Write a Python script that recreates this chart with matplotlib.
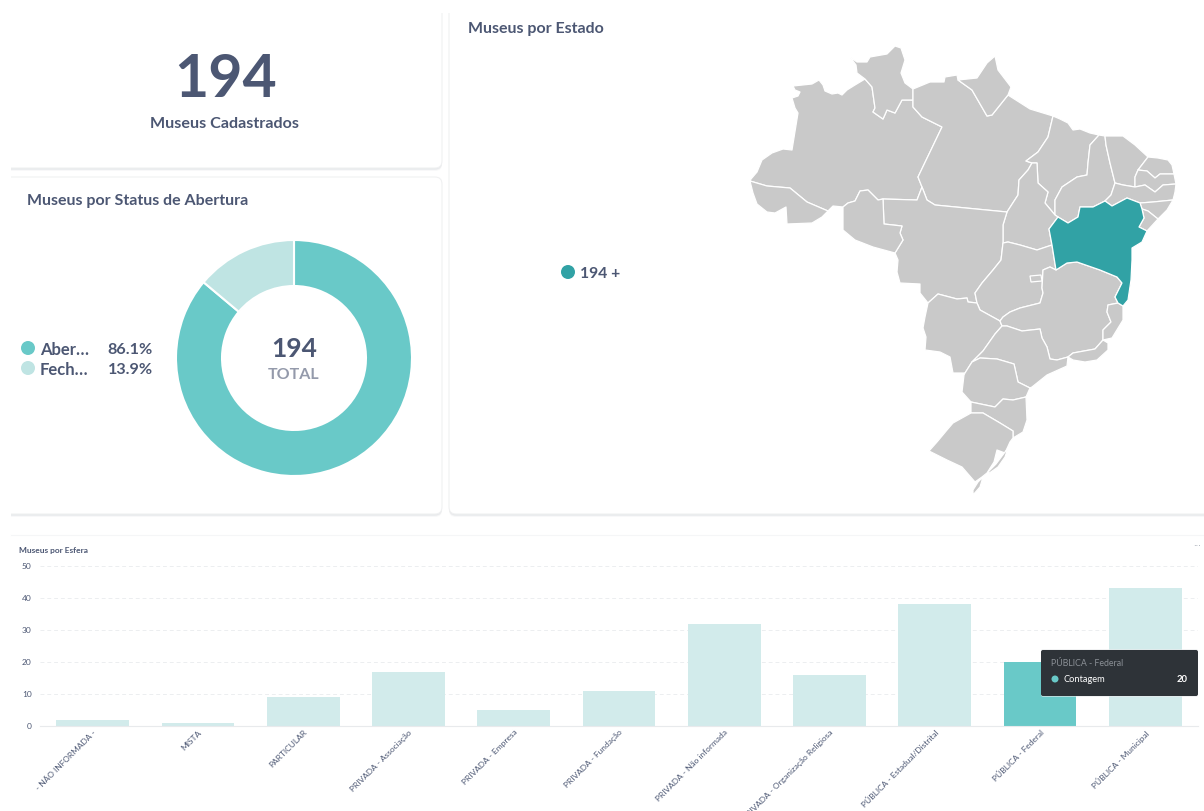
import matplotlib
matplotlib.use('Agg')
import matplotlib.pyplot as plt
from matplotlib.patches import FancyBboxPatch, Polygon, Circle
from matplotlib.transforms import ScaledTranslation

plt.rcParams['font.family'] = ['Lato', 'DejaVu Sans']

# dados
total_museus = 194
status_nomes = ['Aber…', 'Fech…']
status_pct = [86.1, 13.9]
esferas = ['- NÃO INFORMADA -', 'MISTA', 'PARTICULAR', 'PRIVADA - Associação', 'PRIVADA - Empresa',
           'PRIVADA - Fundação', 'PRIVADA - Não informada', 'PRIVADA - Organização Religiosa',
           'PÚBLICA - Estadual/Distrital', 'PÚBLICA - Federal', 'PÚBLICA - Municipal']
contagem = [2, 1, 9, 17, 5, 11, 32, 16, 38, 20, 43]
yticks_esfera = [0, 10, 20, 30, 40, 50]

# contornos dos estados (pixels)
AM = [(793,86),(812,84),(819,80),(823,85),(825,91),(832,94),(838,93),(842,95),(847,90),(855,85),(865,79),(872,87),(875,108),(873,112),(883,119),(887,110),(895,113),(902,100),(913,100),(913,107),(922,117),(942,127),(918,177),(922,187),(917,200),(883,199),(878,200),(868,190),(860,191),(855,201),(848,203),(843,207),(833,206),(828,211),(807,202),(790,188),(767,186),(750,181),(751,179),(757,172),(762,160),(772,153),(783,149),(792,150),(798,113),(795,108),(792,98),(798,96),(800,92),(795,90)]
RR = [(850,57),(857,62),(867,62),(870,57),(887,54),(895,46),(901,48),(905,60),(901,73),(905,83),(913,89),(913,100),(902,100),(895,113),(887,110),(883,119),(873,112),(875,108),(872,87),(865,79),(857,73),(856,65)]
PA = [(913,89),(930,82),(944,82),(945,77),(957,75),(958,80),(972,90),(987,116),(992,115),(1008,95),(1030,109),(1053,116),(1048,137),(1038,152),(1026,161),(1032,163),(1028,170),(1019,180),(1018,195),(1007,212),(935,205),(927,200),(922,187),(918,177),(942,127),(922,117),(913,107),(913,100)]
AP = [(958,80),(977,78),(987,63),(995,56),(998,70),(1011,87),(1008,95),(992,115),(987,116),(972,90)]
MA = [(1053,116),(1060,119),(1068,123),(1073,130),(1080,129),(1090,133),(1099,135),(1090,145),(1088,163),(1087,175),(1077,177),(1062,187),(1055,200),(1055,215),(1045,203),(1048,192),(1038,183),(1037,163),(1032,163),(1026,161),(1038,152),(1048,137)]
PI = [(1099,135),(1105,136),(1106,145),(1110,163),(1115,183),(1111,195),(1105,201),(1093,207),(1080,207),(1078,217),(1068,223),(1058,217),(1055,215),(1055,200),(1062,187),(1077,177),(1087,175),(1088,163),(1090,145)]
CE = [(1105,136),(1123,136),(1135,145),(1148,157),(1138,170),(1135,177),(1135,187),(1123,185),(1115,183),(1110,163),(1106,145)]
RN = [(1148,157),(1158,158),(1168,160),(1172,165),(1174,174),(1160,174),(1155,178),(1147,171),(1138,170)]
PB = [(1135,177),(1138,170),(1147,171),(1155,178),(1160,174),(1174,174),(1176,184),(1163,185),(1155,192),(1145,185),(1135,187)]
PE = [(1115,183),(1123,185),(1135,187),(1145,185),(1155,192),(1163,185),(1176,184),(1175,192),(1173,200),(1153,202),(1140,203),(1127,198),(1112,206),(1105,201),(1111,195)]
AL = [(1140,203),(1153,202),(1173,200),(1167,210),(1158,219),(1148,211),(1142,209)]
SE = [(1142,209),(1148,211),(1158,219),(1147,231),(1139,227),(1144,218)]
BA = [(1105,201),(1112,206),(1127,198),(1140,203),(1142,209),(1144,218),(1139,227),(1147,231),(1142,242),(1132,248),(1132,260),(1131,280),(1128,300),(1123,306),(1118,303),(1115,297),(1122,283),(1117,277),(1100,270),(1077,262),(1067,263),(1056,270),(1052,245),(1049,229),(1058,217),(1068,223),(1078,217),(1080,207),(1093,207)]
TO = [(1032,163),(1037,163),(1038,183),(1048,192),(1045,203),(1055,215),(1058,217),(1049,229),(1052,245),(1037,250),(1020,245),(1008,242),(1003,243),(1003,225),(1007,212),(1018,195),(1019,180),(1028,170)]
MT = [(883,199),(917,200),(922,187),(927,200),(935,205),(1007,212),(1003,225),(1003,243),(1001,260),(993,270),(982,283),(975,293),(977,303),(968,302),(967,298),(957,299),(938,294),(928,303),(920,293),(920,284),(900,283),(897,272),(898,260),(895,253),(903,240),(900,233),(902,226),(884,224)]
RO = [(843,207),(848,203),(855,201),(860,191),(868,190),(878,200),(883,199),(884,224),(902,226),(900,233),(903,240),(895,253),(873,247),(855,240),(843,230),(843,220)]
AC = [(750,181),(767,186),(790,188),(807,202),(828,211),(822,217),(812,223),(787,224),(786,207),(775,213),(767,212),(757,204),(753,193)]
GO = [(1056,270),(1050,267),(1043,270),(1042,288),(1043,293),(1040,303),(1020,308),(1010,312),(1003,317),(1000,321),(980,310),(977,303),(975,293),(982,283),(993,270),(1001,260),(1003,243),(1008,242),(1020,245),(1037,250),(1052,245)]
DF = [(1030,276),(1041,275),(1042,281),(1031,282)]
MS = [(928,303),(938,294),(957,299),(967,298),(968,302),(977,303),(980,310),(1000,321),(1002,326),(995,334),(983,351),(972,362),(965,373),(953,373),(950,357),(940,352),(925,350),(926,337),(923,328),(925,317)]
MG = [(1056,270),(1067,263),(1077,262),(1100,270),(1117,277),(1122,283),(1115,297),(1118,303),(1108,305),(1107,312),(1111,322),(1103,330),(1103,340),(1095,349),(1073,353),(1068,357),(1057,360),(1050,359),(1047,347),(1042,338),(1040,329),(1022,331),(1007,326),(1002,326),(1000,321),(1003,317),(1010,312),(1020,308),(1040,303),(1043,293),(1042,288),(1043,270),(1050,267)]
SP = [(1002,326),(1007,326),(1022,331),(1040,329),(1042,338),(1047,347),(1050,359),(1057,360),(1068,357),(1067,366),(1047,375),(1032,387),(1030,388),(1018,382),(1014,364),(997,359),(980,358),(972,362),(983,351),(995,334)]
RJ = [(1068,357),(1073,353),(1095,349),(1103,340),(1108,343),(1108,350),(1097,360),(1085,362),(1073,360)]
ES = [(1108,305),(1118,303),(1123,306),(1123,320),(1112,338),(1103,340),(1103,330),(1111,322),(1107,312)]
PR = [(972,362),(980,358),(997,359),(1014,364),(1018,382),(1030,388),(1026,397),(1013,400),(1003,399),(995,407),(971,402),(962,392),(964,375),(965,373)]
SC = [(971,402),(995,407),(1003,399),(1013,400),(1026,397),(1027,420),(1023,432),(1013,438),(1013,431),(1000,423),(983,413),(971,413)]
RS = [(971,413),(983,413),(1000,423),(1013,431),(1013,438),(1010,442),(1005,453),(997,450),(994,462),(987,473),(982,477),(975,482),(962,467),(947,460),(929,451),(937,442),(947,430),(953,423)]
RS_sul = [(983,477),(980,487),(973,495),(973,490),(978,482)]
RS_costa = [(1008,448),(1005,457),(998,467),(988,474),(989,471),(996,464),(1002,456)]
estados_cinza = [AM, RR, PA, AP, MA, PI, CE, RN, PB, PE, AL, SE, TO, MT, RO, AC, GO, MS, MG, SP, RJ, ES, PR, SC, RS, RS_sul, RS_costa]

texto = '#4c5773'
cinza_mapa = '#c9c9c9'
teal = '#31a2a5'
teal_claro = '#69c9c8'
teal_palido = '#bfe4e3'
barra_clara = '#d2ebeb'

fig = plt.figure(figsize=(12.04, 8.11), dpi=100, facecolor='white')

# camada de fundo em pixels
bg = fig.add_axes([0, 0, 1, 1])
bg.set_xlim(0, 1204)
bg.set_ylim(811, 0)
bg.axis('off')


def cartao(x0, y0, x1, y1):
    for d, a in ((2.5, 0.25), (1.5, 0.45), (0.8, 0.7)):
        bg.add_patch(FancyBboxPatch((x0, y0 + 0.5), x1 - x0, y1 - y0 + d, boxstyle='round,pad=0,rounding_size=7',
                                    fc='#e4e6e8', ec='none', alpha=a))
    bg.add_patch(FancyBboxPatch((x0, y0), x1 - x0, y1 - y0, boxstyle='round,pad=0,rounding_size=7',
                                fc='white', ec='#f0f1f2', lw=0.8))


cartao(-20, -20, 442, 168)
cartao(-20, 177, 442, 514)
cartao(449, -20, 1230, 514)
bg.add_patch(plt.Rectangle((0, 0), 11, 530, fc='white', ec='none', zorder=3))
bg.add_patch(plt.Rectangle((0, 0), 1204, 13, fc='white', ec='none', zorder=3))
bg.plot([11, 1204], [535, 535], color='#f5f6f7', lw=0.8)

# cartão de total
bg.text(226, 80, str(total_museus), fontsize=42.5, fontweight='bold', color=texto, ha='center', va='center')
bg.text(225, 124, 'Museus Cadastrados', fontsize=11.6, fontweight='bold', color=texto, ha='center', va='center')

# rosca
bg.text(27, 201, 'Museus por Status de Abertura', fontsize=11.5, fontweight='bold', color=texto, va='center')
rosca = fig.add_axes([176 / 1204, 1 - 476 / 811, 236 / 1204, 236 / 811])
rosca.pie(status_pct, colors=[teal_claro, teal_palido], startangle=90, counterclock=False, radius=1,
          wedgeprops=dict(width=0.39, edgecolor='white', linewidth=1.5))
rosca.set_xlim(-1, 1)
rosca.set_ylim(-1, 1)
bg.text(294, 349, str(total_museus), fontsize=19, fontweight='bold', color=texto, ha='center', va='center')
bg.text(294, 375, 'TOTAL', fontsize=11.5, fontweight='bold', color='#949aab', ha='center', va='center')
for nome, pct, cor, y in zip(status_nomes, status_pct, [teal_claro, teal_palido], [348, 368]):
    bg.add_patch(Circle((28, y), 7, fc=cor, ec='none'))
    bg.text(40, y + 2, nome, fontsize=12, fontweight='bold', color=texto, va='center')
    bg.text(153, y + 2, f'{pct}%', fontsize=11.6, fontweight='bold', color=texto, va='center', ha='right')

# mapa
bg.text(468, 29, 'Museus por Estado', fontsize=11.5, fontweight='bold', color=texto, va='center')
bg.add_patch(Circle((568, 272), 7, fc=teal, ec='none'))
bg.text(580, 274, '194 +', fontsize=11.3, fontweight='bold', color=texto, va='center')
for contorno in estados_cinza:
    bg.add_patch(Polygon(contorno, closed=True, fc=cinza_mapa, ec='white', lw=0.9, joinstyle='round'))
bg.add_patch(Polygon(BA, closed=True, fc=teal, ec='white', lw=0.9, joinstyle='round'))
bg.add_patch(Polygon(DF, closed=True, fc=cinza_mapa, ec='white', lw=0.9))

# barras
bg.text(19, 550, 'Museus por Esfera', fontsize=6, fontweight='bold', color=texto, va='center')
bg.text(1197, 544, '...', fontsize=6, family='DejaVu Sans', color='#8a919e', ha='center', va='center')
ax = fig.add_axes([40 / 1204, 1 - 726 / 811, (1198 - 40) / 1204, (726 - 566) / 811])
ax.set_facecolor('none')
posicoes = list(range(len(esferas)))
cores = [teal_claro if e == 'PÚBLICA - Federal' else barra_clara for e in esferas]
ax.bar(posicoes, contagem, width=0.69, color=cores, zorder=2)
ax.set_xlim(-0.5, 10.5)
ax.set_ylim(0, 50)
ax.set_yticks(yticks_esfera)
ax.set_xticks(posicoes)
ax.set_xticklabels(esferas, rotation=45, ha='right', rotation_mode='anchor', fontsize=6, color=texto)
desloca = ScaledTranslation(-2.5 / 100, 0, fig.dpi_scale_trans)
for rotulo in ax.get_xticklabels():
    rotulo.set_transform(rotulo.get_transform() + desloca)
ax.tick_params(axis='y', length=0, labelsize=6, labelcolor=texto, pad=6)
ax.tick_params(axis='x', length=0, pad=2)
ax.grid(axis='y', color='#eceef0', linestyle=(0, (4, 3)), lw=0.7, zorder=1)
for s in ('top', 'left', 'right'):
    ax.spines[s].set_visible(False)
ax.spines['bottom'].set_color('#e8eaec')

# tooltip
top = fig.add_axes([0, 0, 1, 1])
top.set_xlim(0, 1204)
top.set_ylim(811, 0)
top.axis('off')
top.add_patch(FancyBboxPatch((1041, 649), 157, 48, boxstyle='round,pad=0,rounding_size=2', fc='#e9eaeb', ec='none', alpha=0.6))
top.add_patch(FancyBboxPatch((1041, 650), 157, 46, boxstyle='round,pad=0,rounding_size=2', fc='#2e3338', ec='none'))
top.text(1051, 664, 'PÚBLICA - Federal', fontsize=6.3, color='#8b9096', va='center')
top.add_patch(Circle((1055, 679), 3.5, fc=teal_claro, ec='none'))
top.text(1063, 680, 'Contagem', fontsize=6.7, color='white', va='center')
top.text(1188, 680, '20', fontsize=6.8, fontweight='bold', color='white', va='center', ha='right')

fig.savefig('out.png', dpi=100)
